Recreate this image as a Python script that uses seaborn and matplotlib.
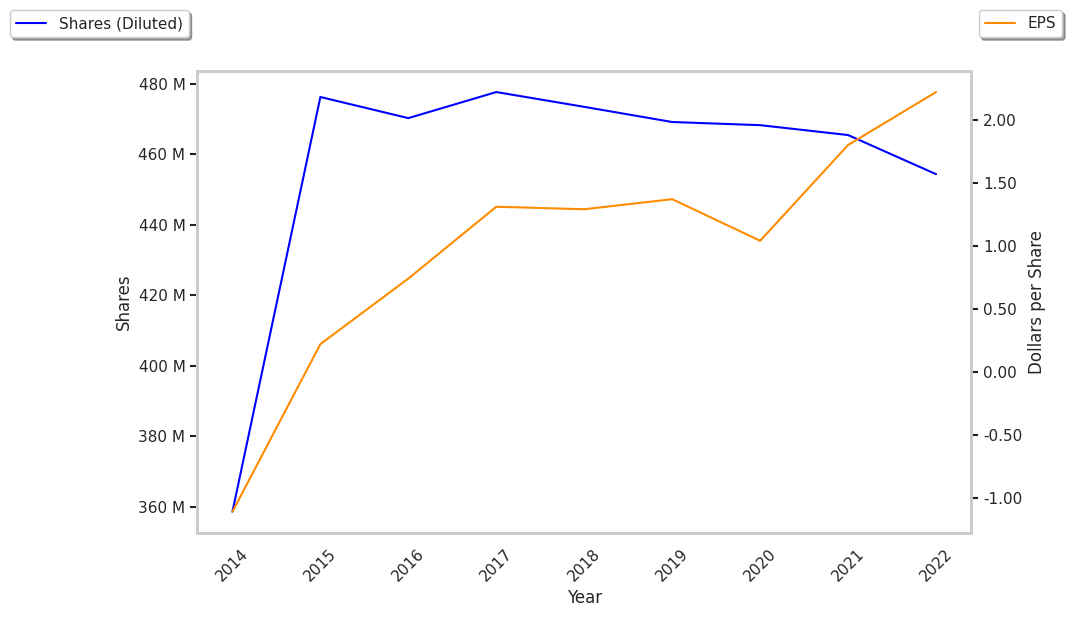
import numpy as np
import pandas as pd
import matplotlib
matplotlib.use("Agg")
import matplotlib.pyplot as plt
import matplotlib.ticker as mticker
import seaborn as sns

years = ["2014", "2015", "2016", "2017", "2018", "2019", "2020", "2021", "2022"]
shares_m = [358.6, 476.3, 470.3, 477.7, 473.5, 469.2, 468.3, 465.5, 454.4]
eps = [-1.11, 0.22, 0.74, 1.31, 1.29, 1.37, 1.04, 1.80, 2.22]

df = pd.DataFrame({"Year": years, "Shares": np.array(shares_m) * 1e6, "EPS": eps})

sns.set_theme(style="white")
plt.rcParams["axes.edgecolor"] = "#cccccc"
plt.rcParams["axes.linewidth"] = 2

fig, ax = plt.subplots(figsize=(10.72, 6.18), dpi=100)
fig.subplots_adjust(left=0.184, right=0.906, top=0.885, bottom=0.138)

sns.lineplot(data=df, x="Year", y="Shares", ax=ax, color="blue", label="Shares (Diluted)", legend=False)
ax2 = ax.twinx()
sns.lineplot(data=df, x="Year", y="EPS", ax=ax2, color="darkorange", label="EPS", legend=False)

ax.yaxis.set_major_formatter(mticker.FuncFormatter(lambda v, p: f"{v/1e6:.0f} M"))
ax2.yaxis.set_major_formatter(mticker.FormatStrFormatter("%.2f"))
ax2.set_yticks([-1.0, -0.5, 0.0, 0.5, 1.0, 1.5, 2.0])
ax.set_ylabel("Shares")
ax2.set_ylabel("Dollars per Share")
ax.set_xlabel("Year")
ax.tick_params(axis="x", rotation=45)
ax.tick_params(axis="y", left=True, length=5, width=1.5, color="#222222")
ax2.tick_params(axis="y", right=True, length=5, width=1.5, color="#222222")

fig.legend(*ax.get_legend_handles_labels(), loc="upper left", bbox_to_anchor=(0.002, 0.996), shadow=True, fancybox=True)
fig.legend(*ax2.get_legend_handles_labels(), loc="upper right", bbox_to_anchor=(0.998, 0.996), shadow=True, fancybox=True)

fig.savefig("out.png")
